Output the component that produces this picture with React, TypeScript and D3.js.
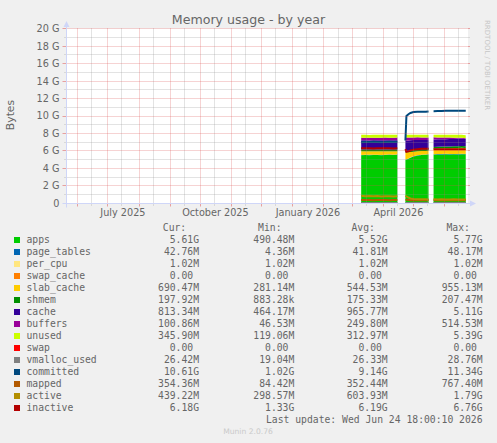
import React from "react";
import * as d3 from "d3";

// ---- data (values in G) ----
const dates = [
  "2026-03-10", "2026-03-14", "2026-03-18", "2026-03-22", "2026-03-26", "2026-03-30", "2026-04-03", "2026-04-07", "2026-04-11", "2026-04-15",
  "2026-04-19",
  "2026-04-23", "2026-04-24", "2026-04-26", "2026-04-28", "2026-05-01", "2026-05-05", "2026-05-09", "2026-05-13", "2026-05-16",
  "2026-05-19",
  "2026-05-21", "2026-05-25", "2026-05-29", "2026-06-02", "2026-06-06", "2026-06-10", "2026-06-14", "2026-06-18", "2026-06-22",
];
const N = null;
const apps = [5.50, 5.52, 5.51, 5.53, 5.52, 5.50, 5.53, 5.54, 5.52, 5.54, N, 4.95, 5.00, 5.10, 5.22, 5.35, 5.45, 5.52, 5.56, 5.58, N, 5.58, 5.60, 5.59, 5.62, 5.60, 5.61, 5.60, 5.62, 5.61];
const pageTables = [0.042, 0.042, 0.042, 0.043, 0.042, 0.042, 0.043, 0.042, 0.042, 0.043, N, 0.030, 0.035, 0.040, 0.040, 0.040, 0.041, 0.042, 0.042, 0.043, N, 0.043, 0.043, 0.043, 0.043, 0.043, 0.043, 0.043, 0.043, 0.043];
const perCpu = [0.001, 0.001, 0.001, 0.001, 0.001, 0.001, 0.001, 0.001, 0.001, 0.001, N, 0.001, 0.001, 0.001, 0.001, 0.001, 0.001, 0.001, 0.001, 0.001, N, 0.001, 0.001, 0.001, 0.001, 0.001, 0.001, 0.001, 0.001, 0.001];
const swapCache = [0, 0, 0, 0, 0, 0, 0, 0, 0, 0, N, 0, 0, 0, 0, 0, 0, 0, 0, 0, N, 0, 0, 0, 0, 0, 0, 0, 0, 0];
const slabCache = [0.42, 0.40, 0.41, 0.38, 0.40, 0.42, 0.39, 0.38, 0.40, 0.38, N, 0.85, 0.80, 0.72, 0.62, 0.52, 0.46, 0.42, 0.40, 0.40, N, 0.62, 0.64, 0.66, 0.65, 0.67, 0.68, 0.68, 0.69, 0.69];
const shmem = [0.20, 0.20, 0.20, 0.20, 0.20, 0.20, 0.20, 0.20, 0.20, 0.20, N, 0.05, 0.08, 0.12, 0.16, 0.19, 0.20, 0.20, 0.20, 0.20, N, 0.20, 0.20, 0.20, 0.20, 0.20, 0.20, 0.20, 0.20, 0.198];
const cache = [1.05, 1.05, 1.04, 1.06, 1.05, 1.05, 1.06, 1.05, 1.05, 1.06, N, 1.27, 1.25, 1.22, 1.18, 1.15, 1.10, 1.08, 1.05, 1.03, N, 0.86, 0.84, 0.84, 0.83, 0.85, 0.84, 0.87, 0.84, 0.813];
const buffers = [0.30, 0.30, 0.30, 0.30, 0.30, 0.30, 0.30, 0.30, 0.30, 0.30, N, 0.40, 0.38, 0.35, 0.33, 0.30, 0.30, 0.28, 0.28, 0.27, N, 0.25, 0.22, 0.20, 0.18, 0.16, 0.14, 0.12, 0.11, 0.101];
const unused = [0.33, 0.33, 0.33, 0.33, 0.33, 0.33, 0.33, 0.33, 0.33, 0.33, N, 0.30, 0.30, 0.30, 0.30, 0.30, 0.30, 0.31, 0.32, 0.33, N, 0.30, 0.31, 0.32, 0.33, 0.33, 0.34, 0.34, 0.35, 0.346];
const swap = [0, 0, 0, 0, 0, 0, 0, 0, 0, 0, N, 0, 0, 0, 0, 0, 0, 0, 0, 0, N, 0, 0, 0, 0, 0, 0, 0, 0, 0];
const vmallocUsed = [0.026, 0.026, 0.026, 0.026, 0.026, 0.026, 0.026, 0.026, 0.026, 0.026, N, 0.02, 0.024, 0.026, 0.026, 0.026, 0.026, 0.026, 0.026, 0.026, N, 0.026, 0.026, 0.026, 0.026, 0.026, 0.026, 0.026, 0.026, 0.026];
const committed = [7.00, 7.03, 7.01, 7.04, 7.02, 7.00, 7.03, 7.05, 7.02, 7.04, N, 7.20, 10.00, 10.20, 10.35, 10.45, 10.48, 10.50, 10.50, 10.52, N, 10.55, 10.57, 10.58, 10.60, 10.60, 10.59, 10.60, 10.61, 10.61];
const mapped = [0.38, 0.37, 0.38, 0.36, 0.38, 0.37, 0.38, 0.36, 0.37, 0.38, N, 0.42, 0.40, 0.38, 0.36, 0.35, 0.35, 0.35, 0.35, 0.35, N, 0.35, 0.35, 0.36, 0.35, 0.35, 0.35, 0.36, 0.35, 0.354];
const active = [0.86, 0.82, 0.84, 0.80, 0.83, 0.78, 0.80, 0.82, 0.78, 0.80, N, 0.85, 0.78, 0.66, 0.56, 0.50, 0.47, 0.45, 0.45, 0.44, N, 0.45, 0.44, 0.45, 0.44, 0.44, 0.45, 0.44, 0.44, 0.44];
const inactive = [6.30, 6.32, 6.30, 6.28, 6.30, 6.32, 6.30, 6.30, 6.28, 6.30, N, 6.20, 5.90, 5.95, 6.05, 6.15, 6.20, 6.25, 6.25, 6.25, N, 6.20, 6.20, 6.18, 6.20, 6.20, 6.18, 6.20, 6.18, 6.18];

const seriesNames = ["apps", "page_tables", "per_cpu", "swap_cache", "slab_cache", "shmem", "cache", "buffers", "unused", "swap", "vmalloc_used", "committed", "mapped", "active", "inactive"];
const seriesColors = ["#00CC00", "#0066B3", "#FFE680", "#FF8000", "#FFCC00", "#008F00", "#330099", "#990099", "#CCFF00", "#FF0000", "#808080", "#00487D", "#B35A00", "#B38F00", "#B30000"];
const curVals = ["5.61G", "42.76M", "1.02M", "0.00", "690.47M", "197.92M", "813.34M", "100.86M", "345.90M", "0.00", "26.42M", "10.61G", "354.36M", "439.22M", "6.18G"];
const minVals = ["490.48M", "4.36M", "1.02M", "0.00", "281.14M", "883.28k", "464.17M", "46.53M", "119.06M", "0.00", "19.04M", "1.02G", "84.42M", "298.57M", "1.33G"];
const avgVals = ["5.52G", "41.81M", "1.02M", "0.00", "544.53M", "175.33M", "965.77M", "249.80M", "312.97M", "0.00", "26.33M", "9.14G", "352.44M", "603.93M", "6.19G"];
const maxVals = ["5.77G", "48.17M", "1.02M", "0.00", "955.13M", "207.47M", "5.11G", "514.53M", "5.39G", "0.00", "28.76M", "11.34G", "767.40M", "1.79G", "6.76G"];
const yTicks = [0, 2, 4, 6, 8, 10, 12, 14, 16, 18, 20];
const xLabelMonths = ["2025-07-16", "2025-10-16", "2026-01-16", "2026-04-16"];

const stackSeries = [apps, pageTables, perCpu, swapCache, slabCache, shmem, cache, buffers, unused, swap];
const lineSeries = [vmallocUsed, committed, mapped, active, inactive];

const FONT = "'DejaVu Sans', Verdana, sans-serif";
const MONO = "'DejaVu Sans Mono', monospace";
const TXT = "#666666";

export default function App() {
  const parse = d3.timeParse("%Y-%m-%d");
  const tStart = new Date(2025, 4, 20, 18, 0, 0);
  const tEnd = new Date(2026, 5, 24, 18, 0, 10);
  const X0 = 66.4, X1 = 468.5;
  const x = d3.scaleTime().domain([tStart, tEnd]).range([X0, X1]);
  const y = d3.scaleLinear().domain([0, 20]).range([203.3, 28.7]);
  const snap = (v: number) => Math.floor(v) + 0.5;
  const left = 66.5, right = 468, bottom = 203.5, top = 28.5;

  const keys = seriesNames.slice(0, 10);
  const rows = dates.map((d, i) => {
    const r: any = { date: parse(d), gap: apps[i] == null };
    keys.forEach((k, j) => { r[k] = stackSeries[j][i] ?? 0; });
    return r;
  });
  const stacked = d3.stack<any>().keys(keys)(rows);
  const area = d3.area<any>()
    .defined((d: any) => !d.data.gap)
    .x((d: any) => x(d.data.date))
    .y0((d: any) => y(d[0]))
    .y1((d: any) => y(d[1]));

  const line = (vals: (number | null)[]) =>
    d3.line<number>()
      .defined((_, i) => vals[i] != null)
      .x((_, i) => x(parse(dates[i]) as Date))
      .y((v) => y(v as number))(vals as number[]);

  const majorMonths = d3.timeMonth.range(d3.timeMonth.ceil(tStart), tEnd);
  const minorDays = d3.timeMonth.range(d3.timeMonth.floor(tStart), tEnd)
    .map((m) => d3.timeDay.offset(m, 14))
    .filter((d) => d > tStart && d < tEnd);
  const labelFmt = d3.timeFormat("%B %Y");

  const minorY = d3.range(1, 20, 2);
  const charW = 0.602 * 9.72;
  const cols = [199, 294.3, 387.7, 482.7];
  const colVals = [curVals, minVals, avgVals, maxVals];
  const headers = ["Cur:", "Min:", "Avg:", "Max:"];

  const MG = "rgba(222,79,79,0.5)";
  const G = "rgba(143,143,143,0.5)";

  return (
    <svg width={497} height={443} style={{ position: "absolute", left: 0, top: 0, display: "block" }}>
      <rect x={0} y={0} width={497} height={443} fill="#F0F0F0" />
      <rect x={left} y={top} width={right - left} height={bottom - top} fill="#FFFFFF" />

      {/* stacked areas */}
      {stacked.map((s, i) => (
        <path key={keys[i]} d={area(s as any) || ""} fill={seriesColors[i]} />
      ))}
      {/* lines */}
      {lineSeries.map((vals, i) => (
        <path key={i} d={line(vals) || ""} fill="none" stroke={seriesColors[10 + i]} strokeWidth={2} />
      ))}

      {/* minor grid */}
      {minorY.map((v) => (
        <line key={"my" + v} x1={left - 2} x2={right + 2} y1={snap(y(v))} y2={snap(y(v))} stroke={G} strokeWidth={1} strokeDasharray="1 1" />
      ))}
      {minorDays.map((d, i) => (
        <line key={"mx" + i} x1={snap(x(d))} x2={snap(x(d))} y1={top} y2={bottom + 2} stroke={G} strokeWidth={1} strokeDasharray="1 1" />
      ))}
      {/* major grid */}
      {yTicks.filter((v) => v > 0).map((v) => (
        <g key={"My" + v}>
          <line x1={left} x2={right} y1={snap(y(v))} y2={snap(y(v))} stroke={MG} strokeWidth={1} strokeDasharray="1 1" />
          <line x1={left - 4} x2={left} y1={snap(y(v))} y2={snap(y(v))} stroke={MG} strokeWidth={1} />
          <line x1={right} x2={right + 2} y1={snap(y(v))} y2={snap(y(v))} stroke={MG} strokeWidth={1} />
        </g>
      ))}
      {majorMonths.map((d, i) => (
        <g key={"Mx" + i}>
          <line x1={snap(x(d))} x2={snap(x(d))} y1={top} y2={bottom} stroke={MG} strokeWidth={1} strokeDasharray="1 1" />
          <line x1={snap(x(d))} x2={snap(x(d))} y1={bottom} y2={bottom + 3} stroke={MG} strokeWidth={1} />
        </g>
      ))}

      {/* axes */}
      <line x1={left - 4} x2={right + 2} y1={bottom} y2={bottom} stroke="#CFD6F8" strokeWidth={1} />
      <line x1={left} x2={left} y1={bottom + 4} y2={top - 2} stroke="#CFD6F8" strokeWidth={1} />
      <path d={`M${left - 3},${top - 1.5} L${left + 3},${top - 1.5} L${left},${top - 7.5} Z`} fill="#CFD6F8" />
      <path d={`M${right + 2},${bottom - 3} L${right + 2},${bottom + 3} L${right + 8},${bottom} Z`} fill="#CFD6F8" />

      {/* y tick labels */}
      {yTicks.map((v) => (
        <text key={"yl" + v} x={59.5} y={y(v)} dy="0.36em" textAnchor="end" fontFamily={FONT} fontSize={9.7} fill={TXT}>
          {v === 0 ? "0" : `${v} G`}
        </text>
      ))}
      {/* x labels */}
      {xLabelMonths.map((s) => {
        const d = parse(s) as Date;
        return (
          <text key={s} x={x(d)} y={215.5} textAnchor="middle" fontFamily={FONT} fontSize={9.7} fill={TXT}>
            {labelFmt(d)}
          </text>
        );
      })}

      {/* title & axis label */}
      <text x={248.5} y={24} textAnchor="middle" fontFamily={FONT} fontSize={12.6} fill={TXT}>Memory usage - by year</text>
      <text transform="translate(14,115) rotate(-90)" textAnchor="middle" fontFamily={FONT} fontSize={10.8} fill={TXT}>Bytes</text>
      <text transform="translate(485,20) rotate(90)" fontFamily={FONT} fontSize={7} fill="#C6C6C6">RRDTOOL / TOBI OETIKER</text>

      {/* legend */}
      {headers.map((h, j) => (
        <text key={h} x={cols[j] - 12.8} y={227.3} dy="0.36em" textAnchor="end" fontFamily={MONO} fontSize={9.72} fill={TXT}>{h}</text>
      ))}
      {seriesNames.map((name, i) => {
        const cy = 240 + 12 * i;
        return (
          <g key={name}>
            <rect x={14} y={cy - 3} width={6} height={6} fill={seriesColors[i]} />
            <text x={26.5} y={cy} dy="0.36em" fontFamily={MONO} fontSize={9.72} fill={TXT}>{name}</text>
            {colVals.map((vals, j) => {
              const v = vals[i];
              const hasSuffix = /[A-Za-z]$/.test(v);
              return (
                <text key={j} x={hasSuffix ? cols[j] : cols[j] - charW} y={cy} dy="0.36em" textAnchor="end" fontFamily={MONO} fontSize={9.72} fill={TXT}>{v}</text>
              );
            })}
          </g>
        );
      })}
      <text x={482.5} y={419.3} dy="0.36em" textAnchor="end" fontFamily={MONO} fontSize={9.72} fill={TXT}>Last update: Wed Jun 24 18:00:10 2026</text>
      <text x={248} y={431.7} dy="0.36em" textAnchor="middle" fontFamily={FONT} fontSize={7.6} fill="#CACACA">Munin 2.0.76</text>
    </svg>
  );
}
